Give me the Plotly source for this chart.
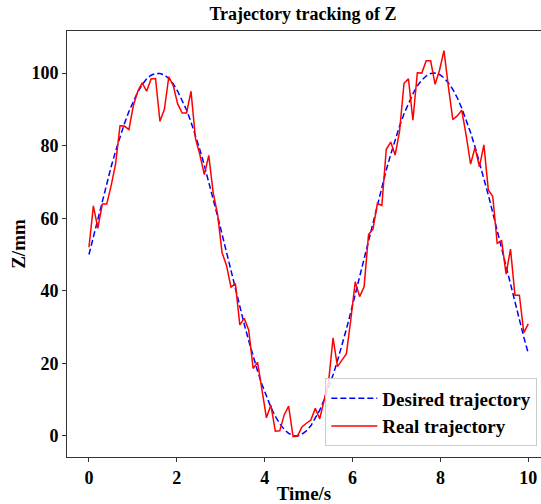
import plotly.graph_objects as go

time_s = [0.000, 0.101, 0.202, 0.303, 0.404, 0.505, 0.606, 0.707, 0.808, 0.909,
          1.010, 1.111, 1.212, 1.313, 1.414, 1.515, 1.616, 1.717, 1.818, 1.919,
          2.020, 2.121, 2.222, 2.323, 2.424, 2.525, 2.626, 2.727, 2.828, 2.929,
          3.030, 3.131, 3.232, 3.333, 3.434, 3.535, 3.636, 3.737, 3.838, 3.939,
          4.040, 4.141, 4.242, 4.343, 4.444, 4.545, 4.646, 4.747, 4.848, 4.949,
          5.051, 5.152, 5.253, 5.354, 5.455, 5.556, 5.657, 5.758, 5.859, 5.960,
          6.061, 6.162, 6.263, 6.364, 6.465, 6.566, 6.667, 6.768, 6.869, 6.970,
          7.071, 7.172, 7.273, 7.374, 7.475, 7.576, 7.677, 7.778, 7.879, 7.980,
          8.081, 8.182, 8.283, 8.384, 8.485, 8.586, 8.687, 8.788, 8.889, 8.990,
          9.091, 9.192, 9.293, 9.394, 9.495, 9.596, 9.697, 9.798, 9.899, 10.000]

desired_z = [50.0, 55.0, 60.0, 64.9, 69.7, 74.2, 78.5, 82.5, 86.1, 89.4,
             92.3, 94.8, 96.8, 98.4, 99.4, 99.9, 99.9, 99.5, 98.5, 97.0,
             95.0, 92.6, 89.8, 86.5, 82.9, 78.9, 74.6, 70.1, 65.4, 60.5,
             55.6, 50.5, 45.5, 40.5, 35.6, 30.8, 26.3, 22.0, 17.9, 14.2,
             10.9, 7.9, 5.4, 3.4, 1.8, 0.7, 0.1, 0.0, 0.5, 1.4,
             2.8, 4.8, 7.1, 10.0, 13.2, 16.8, 20.7, 24.9, 29.4, 34.1,
             39.0, 44.0, 49.0, 54.0, 59.0, 64.0, 68.7, 73.3, 77.6, 81.7,
             85.4, 88.8, 91.8, 94.3, 96.5, 98.1, 99.2, 99.9, 100.0, 99.6,
             98.7, 97.3, 95.5, 93.2, 90.4, 87.2, 83.6, 79.7, 75.5, 71.1,
             66.4, 61.5, 56.6, 51.5, 46.5, 41.5, 36.6, 31.8, 27.2, 22.8]

real_z = [52.0, 63.4, 57.2, 63.9, 63.9, 69.0, 75.0, 85.5, 85.4, 84.4,
          91.0, 95.0, 97.3, 95.0, 98.4, 98.5, 86.7, 90.0, 99.0, 96.5,
          91.5, 89.0, 89.0, 95.0, 82.0, 77.5, 72.0, 77.3, 67.0, 61.0,
          50.5, 47.0, 41.0, 42.0, 30.6, 32.4, 29.2, 18.6, 20.3, 13.0,
          5.0, 8.5, 1.3, 1.4, 5.8, 8.2, -0.2, 0.0, 2.5, 3.5,
          4.4, 7.6, 4.7, 9.9, 15.0, 27.0, 19.1, 20.9, 22.6, 32.0,
          42.5, 38.4, 41.1, 55.5, 57.0, 64.1, 63.5, 79.0, 81.0, 77.4,
          84.0, 97.2, 98.4, 87.0, 100.1, 100.0, 103.4, 103.4, 96.9, 100.8,
          106.2, 96.2, 87.2, 88.2, 89.8, 82.9, 74.9, 79.5, 74.2, 80.2,
          67.8, 66.0, 53.1, 53.8, 44.6, 51.5, 38.8, 38.8, 28.5, 30.9]

x_ticks = [0, 2, 4, 6, 8, 10]
y_ticks = [0, 20, 40, 60, 80, 100]

FONT = "Liberation Serif"

fig = go.Figure()
fig.add_trace(go.Scatter(x=time_s, y=desired_z, mode="lines", name="Desired trajectory",
                         legendgroup="d",
                         line=dict(color="#0000ff", width=1.5, dash="6px,3px")))
fig.add_trace(go.Scatter(x=time_s, y=real_z, mode="lines", name="Real trajectory",
                         legendgroup="r",
                         line=dict(color="#ff0000", width=1.5)))

fig.update_layout(
    width=541, height=504,
    margin=dict(l=67, r=0, t=31, b=47, autoexpand=False),
    paper_bgcolor="white", plot_bgcolor="white",
    font=dict(family=FONT, size=18, color="black", weight="bold"),
    title=dict(text="Trajectory tracking of Z", x=303/541, xref="container", xanchor="center",
               y=1 - 14/504, yref="container", yanchor="middle",
               font=dict(family=FONT, size=18, color="black", weight="bold")),
    showlegend=True,
    legend=dict(x=0.545, y=0.025, xanchor="left", yanchor="bottom",
                bgcolor="rgba(255,255,255,0.85)", bordercolor="#cccccc", borderwidth=1,
                font=dict(family=FONT, size=19, color="black", weight="bold"),
                itemwidth=46, tracegroupgap=0),
)
fig.update_xaxes(range=[-0.5, 10.29], tickvals=x_ticks, showgrid=False, zeroline=False,
                 showline=True, linecolor="#333333", linewidth=1, mirror=True,
                 ticks="outside", ticklen=4, tickcolor="#333333", automargin=False,
                 tickfont=dict(family=FONT, size=18, color="black", weight="bold"),
                 title=dict(text="Time/s", standoff=4,
                            font=dict(family=FONT, size=19, color="black", weight="bold")))
fig.update_yaxes(range=[-5.8, 111.6], tickvals=y_ticks, showgrid=False, zeroline=False,
                 showline=True, linecolor="#333333", linewidth=1, mirror=False,
                 ticks="outside", ticklen=4, tickcolor="#333333", automargin=False,
                 tickfont=dict(family=FONT, size=18, color="black", weight="bold"),
                 title=dict(text="Z/mm", standoff=0,
                            font=dict(family=FONT, size=19, color="black", weight="bold")))

fig.write_html("out.html", config={"displayModeBar": False},
               post_script="document.body.style.margin='0px';")
